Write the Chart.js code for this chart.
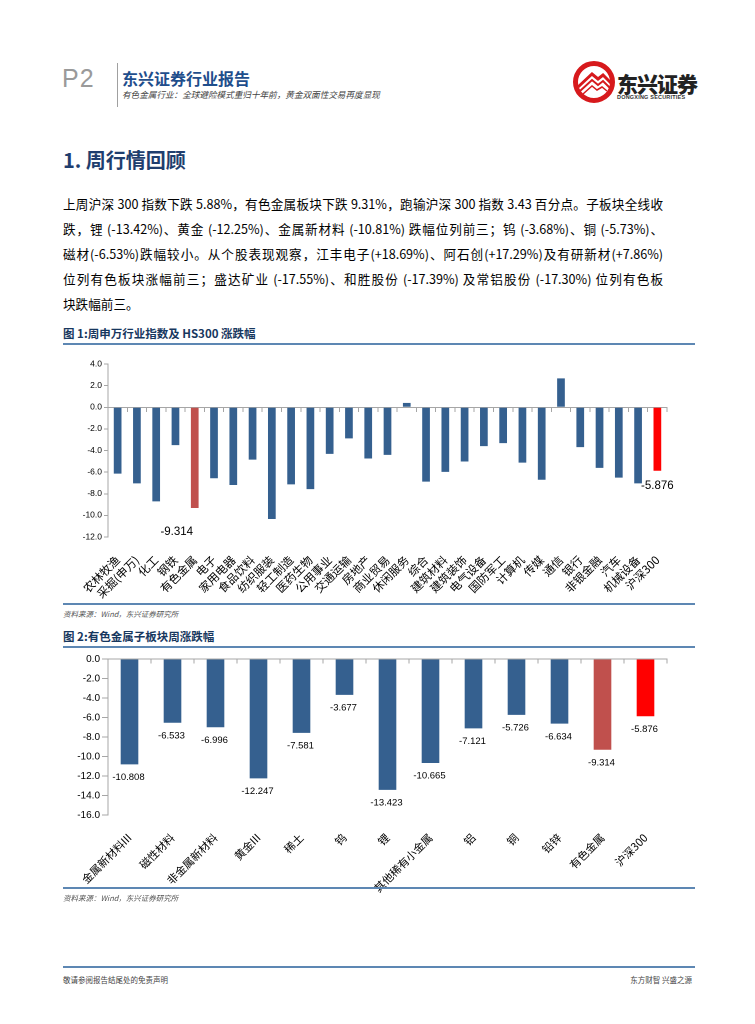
<!DOCTYPE html>
<html lang="zh-CN">
<head>
<meta charset="utf-8">
<script src="https://cdn.jsdelivr.net/npm/chart.js@4.4.1/dist/chart.umd.min.js"></script>
<style>
  html, body { margin: 0; padding: 0; background: #fff; }
  body { width: 755px; height: 1024px; position: relative; overflow: hidden;
         font-family: "Noto Sans CJK SC", "Noto Sans", sans-serif; color: #000; }
  .abs { position: absolute; }
  .p2 { left: 62px; top: 64px; font: 300 25px "Liberation Sans", sans-serif; color: #9a9a9a; letter-spacing: 1px; }
  .vline { left: 117px; top: 63px; width: 1px; height: 44px; background: #a0a0a0; }
  .title { left: 122px; top: 66px; font-size: 16px; font-weight: 700; color: #1f4e8c; }
  .subtitle { left: 122px; top: 88px; font-size: 8.6px; color: #444; font-style: italic; }
  .logo { left: 572px; top: 60px; }
  .logotext { left: 617px; top: 68px; font-size: 21px; font-weight: 900; color: #222; letter-spacing: -1px; }
  .logosub { left: 617px; top: 94px; font: 700 5.5px "Liberation Sans", sans-serif; color: #333; letter-spacing: 0.2px; }
  .h1 { left: 63px; top: 145px; font-size: 20px; font-weight: 700; color: #1f3e6e; }
  .para { left: 63px; width: 600px; font-size: 12.6px; line-height: 16px; white-space: nowrap; }
  .just { text-align: justify; text-align-last: justify; white-space: normal; }
  .cap { left: 63px; font-size: 11.5px; font-weight: 700; color: #17375e; }
  .rule { left: 63px; width: 632px; height: 2px; background: #5d87b3; }
  .src { left: 63px; font-size: 7.5px; color: #555; font-style: italic; }
  .foot { font-size: 7.5px; color: #444; }
  canvas { position: absolute; }
</style>
</head>
<body>
<div class="abs p2">P2</div>
<div class="abs vline"></div>
<div class="abs title">东兴证券行业报告</div>
<div class="abs subtitle">有色金属行业：全球避险模式重归十年前，黄金双面性交易再度显现</div>
<svg class="abs logo" width="44" height="44" viewBox="0 0 44 44">
  <circle cx="22" cy="22" r="18.5" fill="#fff" stroke="#d7191c" stroke-width="5"/>
  <path d="M6 27 L20 14 L26 19 L31 15 L40 24" fill="none" stroke="#d7191c" stroke-width="3"/>
  <path d="M8 31 L20 20 L26 25 L31 21 L38 28" fill="none" stroke="#d7191c" stroke-width="2"/>
  <path d="M11 34 L20 26 L25 30 L30 27 L35 31" fill="none" stroke="#d7191c" stroke-width="1.5"/>
</svg>
<div class="abs logotext">东兴证券</div>
<div class="abs logosub">DONGXING SECURITIES</div>

<div class="abs h1">1. 周行情回顾</div>
<div class="abs para just" style="top:196px">上周沪深 300 指数下跌 5.88%，有色金属板块下跌 9.31%，跑输沪深 300 指数 3.43 百分点。子板块全线收</div>
<div class="abs para just" style="top:221px">跌，锂 (-13.42%)、黄金 (-12.25%)、金属新材料 (-10.81%) 跌幅位列前三；钨 (-3.68%)、铜 (-5.73%)、</div>
<div class="abs para just" style="top:246px">磁材(-6.53%)跌幅较小。从个股表现观察，江丰电子(+18.69%)、阿石创(+17.29%)及有研新材(+7.86%)</div>
<div class="abs para just" style="top:271px">位列有色板块涨幅前三；盛达矿业 (-17.55%)、和胜股份 (-17.39%) 及常铝股份 (-17.30%) 位列有色板</div>
<div class="abs para" style="top:296px">块跌幅前三。</div>

<div class="abs cap" style="top:325px">图 1:周申万行业指数及 HS300 涨跌幅</div>
<div class="abs rule" style="top:343px"></div>
<canvas id="chart1"></canvas>
<div class="abs rule" style="top:603px"></div>
<div class="abs src" style="top:608px">资料来源：Wind，东兴证券研究所</div>

<div class="abs cap" style="top:628px">图 2:有色金属子板块周涨跌幅</div>
<div class="abs rule" style="top:646px"></div>
<canvas id="chart2"></canvas>
<div class="abs rule" style="top:887px"></div>
<div class="abs src" style="top:892px">资料来源：Wind，东兴证券研究所</div>

<div class="abs rule" style="top:966px"></div>
<div class="abs foot" style="left:63px; top:974px">敬请参阅报告结尾处的免责声明</div>
<div class="abs foot" style="left:610px; top:974px; width:82px; text-align:right">东方财智 兴盛之源</div>

<script>
// 图1：申万行业周涨跌幅（%）
const industries = ['农林牧渔', '采掘(申万)', '化工', '钢铁', '有色金属', '电子', '家用电器', '食品饮料',
  '纺织服装', '轻工制造', '医药生物', '公用事业', '交通运输', '房地产', '商业贸易', '休闲服务', '综合',
  '建筑材料', '建筑装饰', '电气设备', '国防军工', '计算机', '传媒', '通信', '银行', '非银金融', '汽车',
  '机械设备', '沪深300'];
const industryChange = [-6.14, -7.04, -8.71, -3.50, -9.314, -6.57, -7.19, -4.84,
  -10.33, -7.13, -7.57, -4.31, -2.88, -4.74, -4.40, 0.40, -6.88,
  -5.98, -5.02, -3.60, -3.32, -5.12, -6.70, 2.67, -3.69, -5.61, -6.51,
  -7.04, -5.876];
const industryTicks = [-12, 4, 2];   // min, max, step
const industryLabelled = ['有色金属', '沪深300'];

// 图2：有色金属子板块周涨跌幅（%）
const subSectors = ['金属新材料III', '磁性材料', '非金属新材料', '黄金III', '稀土', '钨', '锂',
  '其他稀有小金属', '铝', '铜', '铅锌', '有色金属', '沪深300'];
const subSectorChange = [-10.808, -6.533, -6.996, -12.247, -7.581, -3.677, -13.423,
  -10.665, -7.121, -5.726, -6.634, -9.314, -5.876];
const subSectorTicks = [-16, 0, 2];

const BLUE = '#35608f', SECTOR_RED = '#c0504d', INDEX_RED = '#ff0000', AXIS = '#a6a6a6';

function barColor(name) {
  if (name === '有色金属') return SECTOR_RED;
  if (name === '沪深300') return INDEX_RED;
  return BLUE;
}

// 柱端数值标签
const valueLabels = {
  id: 'valueLabels',
  afterDatasetsDraw(chart, args, opts) {
    const ctx = chart.ctx;
    const meta = chart.getDatasetMeta(0);
    const data = chart.data.datasets[0].data;
    const labels = chart.data.labels;
    ctx.save();
    ctx.font = opts.font;
    ctx.fillStyle = '#000';
    ctx.textAlign = 'center';
    ctx.textBaseline = 'middle';
    meta.data.forEach((bar, i) => {
      if (opts.only && !opts.only.includes(labels[i])) return;
      const off = (opts.offsets && opts.offsets[labels[i]]) || opts.offset;
      ctx.fillText(data[i].toFixed(3), bar.x + off[0], bar.y + off[1]);
    });
    ctx.restore();
  }
};

function makeChart(id, box, labels, values, ticks, opt) {
  const cv = document.getElementById(id);
  cv.style.left = box.left + 'px';
  cv.style.top = box.top + 'px';
  cv.width = box.width;
  cv.height = box.height;
  return new Chart(cv, {
    type: 'bar',
    data: {
      labels,
      datasets: [{
        data: values,
        backgroundColor: labels.map(barColor),
        barPercentage: opt.barPct,
        categoryPercentage: 1,
        xAxisID: 'x',
        yAxisID: 'y'
      }]
    },
    options: {
      responsive: false,
      animation: false,
      devicePixelRatio: 2,
      layout: { padding: { top: opt.padTop, right: opt.padRight, left: 0, bottom: 0 } },
      plugins: {
        legend: { display: false },
        tooltip: { enabled: false },
        valueLabels: opt.valueLabels
      },
      scales: {
        x: {
          axis: 'x',
          position: 'bottom',
          grid: { display: false },
          border: { display: false },
          ticks: {
            autoSkip: false, minRotation: 45, maxRotation: 45, padding: opt.xPad,
            color: '#000', font: { family: '"Noto Sans CJK SC", sans-serif', size: opt.xFont }
          },
          afterFit(s) { s.height = opt.xHeight; }
        },
        zero: {
          axis: 'x',
          type: 'category',
          labels,
          position: { y: 0 },
          offset: true,
          grid: { offset: true, drawOnChartArea: false, drawTicks: true, tickLength: 4, color: AXIS },
          border: { display: true, color: AXIS, width: 1 },
          ticks: { display: false }
        },
        y: {
          axis: 'y',
          min: ticks[0], max: ticks[1],
          grid: { drawOnChartArea: false, drawTicks: true, tickLength: opt.yTickLen, color: AXIS },
          border: { display: true, color: AXIS },
          ticks: {
            stepSize: ticks[2], padding: 2, color: '#000',
            font: { family: '"Liberation Sans", Arial, sans-serif', size: opt.yFont },
            callback: v => Number(v).toFixed(1)
          },
          afterFit(s) { s.width = 45; }
        }
      }
    },
    plugins: [valueLabels]
  });
}

makeChart('chart1', { left: 63, top: 350, width: 632, height: 250 },
  industries, industryChange, industryTicks, {
    barPct: 0.4, padTop: 14, padRight: 28, xHeight: 63, xPad: 8, xFont: 11.5, yFont: 8.5, yTickLen: 4,
    valueLabels: {
      font: '11.5px "Liberation Sans", Arial, sans-serif',
      only: industryLabelled,
      offset: [0, 15],
      offsets: { '有色金属': [-18, 24], '沪深300': [0, 15] }
    }
  });

makeChart('chart2', { left: 63, top: 650, width: 632, height: 244 },
  subSectors, subSectorChange, subSectorTicks, {
    barPct: 0.41, padTop: 9, padRight: 28, xHeight: 79, xPad: 8, xFont: 11, yFont: 10, yTickLen: 6,
    valueLabels: {
      font: '9.5px "Liberation Sans", Arial, sans-serif',
      offset: [-1, 13]
    }
  });
</script>
</body>
</html>
